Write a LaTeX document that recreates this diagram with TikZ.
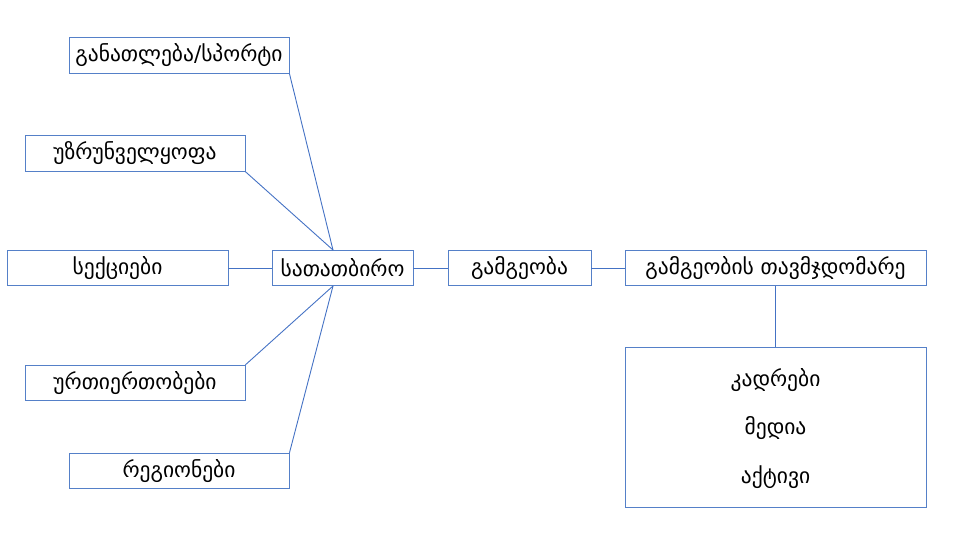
\documentclass[tikz,border=0pt]{standalone}
\usepackage{fontspec}
\setmainfont{DejaVu Sans}
\definecolor{ln}{HTML}{4472C4}
\definecolor{bx}{HTML}{5580C8}
\begin{document}
\begin{tikzpicture}[x=1pt,y=-1pt,
  txt/.style={font=\fontsize{21.5}{24}\selectfont,text=black},
  box/.style={draw=bx,line width=0.95pt,rectangle,inner sep=0pt,minimum width=#1,minimum height=35.5pt,txt},
  conn/.style={draw=ln,line width=0.9pt}]
\useasboundingbox (0,0) rectangle (969,536);
\node[box=220] (edu) at (179,55.5) {განათლება/სპორტი};
\node[box=220] (uzr) at (135,153.5) {უზრუნველყოფა};
\node[box=221] (sek) at (117.5,268) {სექციები};
\node[box=141] (sat) at (342.5,268) {სათათბირო};
\node[box=220] (urt) at (135,383) {ურთიერთობები};
\node[box=220] (reg) at (179,471) {რეგიონები};
\node[box=143] (gam) at (519.5,268) {გამგეობა};
\node[box=301] (tav) at (775.5,268) {გამგეობის თავმჯდომარე};
\node[draw=bx,line width=0.95pt,rectangle,minimum width=301pt,minimum height=160pt] (big) at (775.5,427) {};
\node[txt] (k1) at (775.5,380) {კადრები};
\node[txt] (k2) at (775.5,428) {მედია};
\node[txt] (k3) at (775.5,477) {აქტივი};
\coordinate (hubt) at (333,250);
\coordinate (hubb) at (333,286);
\draw[conn] (edu.south east) -- (hubt);
\draw[conn] (uzr.south east) -- (hubt);
\draw[conn] (urt.north east) -- (hubb);
\draw[conn] (reg.north east) -- (hubb);
\draw[conn] (sek.east) -- (sat.west);
\draw[conn] (sat.east) -- (gam.west);
\draw[conn] (gam.east) -- (tav.west);
\draw[conn] (tav.south) -- (big.north);
\end{tikzpicture}
\end{document}
